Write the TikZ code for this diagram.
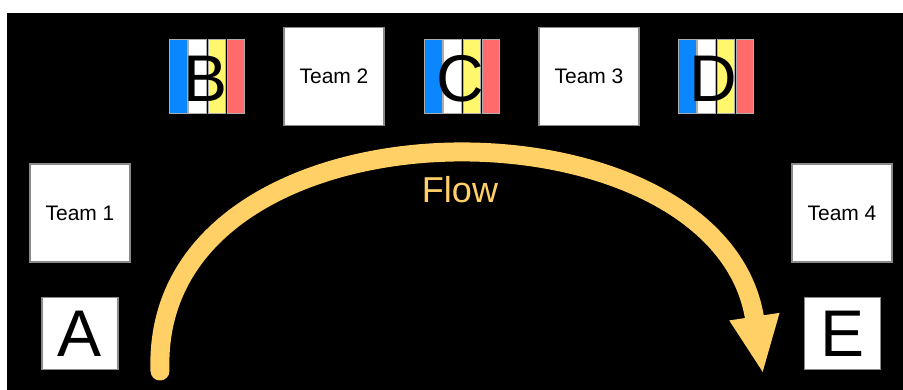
\documentclass[tikz,border=0pt]{standalone}
\usepackage{fontspec}
\setmainfont{Liberation Sans}
\usetikzlibrary{arrows.meta}
\definecolor{flowc}{HTML}{FFD066}
\definecolor{sblue}{HTML}{0A86FF}
\definecolor{syellow}{HTML}{FFF86C}
\definecolor{sred}{HTML}{FF6B6B}
\definecolor{boxline}{HTML}{8A8A8A}
\tikzset{
  teambox/.style={draw=boxline, line width=1.2pt, fill=white, minimum width=100pt, minimum height=98pt, inner sep=0pt, font=\fontsize{21}{21}\selectfont},
  letterbox/.style={draw=boxline, line width=1.2pt, fill=white, minimum width=76pt, minimum height=72pt, inner sep=0pt, font=\fontsize{66}{66}\selectfont},
  stripe/.style={draw=boxline!70, line width=0.8pt, minimum width=17.5pt, minimum height=74pt, inner sep=0pt, anchor=north west},
  bigletter/.style={inner sep=0pt, font=\fontsize{66}{66}\selectfont},
  flowarrow/.style={draw=flowc, line width=19pt, line cap=round, -{Triangle[width=46pt,length=58pt]}}
}
\begin{document}
\begin{tikzpicture}[x=1pt,y=-1pt]
\useasboundingbox (0,0) rectangle (903,390);
\fill[white] (0,0) rectangle (903,390);
\fill[black] (7,13) rectangle (903,390);
% top boxes
\node[teambox] (t2) at (334,76.5) {Team 2};
\node[teambox] (t3) at (589,76.5) {Team 3};
\node[teambox] (t1) at (80,213) {Team 1};
\node[teambox] (t4) at (842,213) {Team 4};
\node[letterbox] (a) at (80,333.5) {A};
\node[letterbox] (e) at (842.5,333.5) {E};
% striped icons
\foreach \nm/\xo/\ltr/\lx in {b/169/B/206, c/424/C/460, d/678/D/713}{
  \node[stripe, fill=sblue] (\nm1) at (\xo,39) {};
  \node[stripe, fill=white] (\nm2) at (\xo+19,39) {};
  \node[stripe, fill=syellow] (\nm3) at (\xo+38.5,39) {};
  \node[stripe, fill=sred] (\nm4) at (\xo+57.5,39) {};
  \node[bigletter, text=black] (\nm L) at (\lx,78.5) {\ltr};
}
% flow arrow
\coordinate (fs) at (160,371);
\coordinate (fe) at (763,374);
\draw[flowarrow] (fs) .. controls (150,88) and (720,88) .. (fe);
\node[text=flowc, font=\fontsize{36}{36}\selectfont] (flow) at (460,190) {Flow};
\end{tikzpicture}
\end{document}
